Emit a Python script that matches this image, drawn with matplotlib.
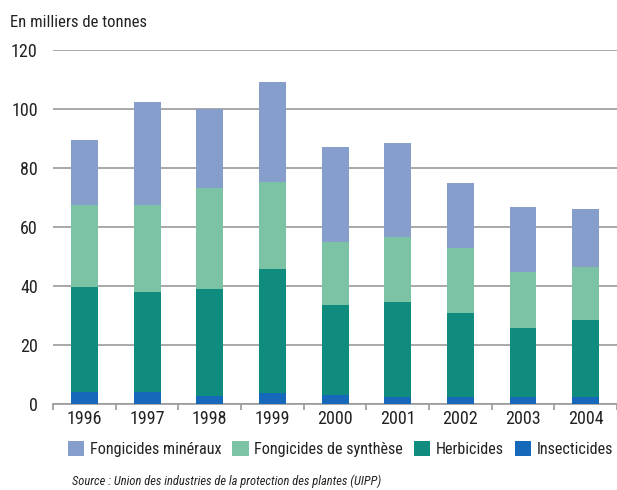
import numpy as np
import matplotlib.pyplot as plt
from matplotlib.patches import Patch
from matplotlib import font_manager

annees = ['1996', '1997', '1998', '1999', '2000', '2001', '2002', '2003', '2004']
insecticides = [4.0, 4.0, 2.7, 3.5, 2.9, 2.1, 2.1, 2.1, 2.1]
herbicides = [35.7, 34.0, 36.2, 42.1, 30.6, 32.3, 28.6, 23.7, 26.2]
fong_synthese = [27.6, 29.3, 34.1, 29.5, 21.2, 22.0, 22.2, 18.7, 17.9]
fong_mineraux = [22.1, 35.1, 26.8, 34.0, 32.3, 32.1, 22.1, 22.1, 19.7]

noms = ['Fongicides minéraux', 'Fongicides de synthèse', 'Herbicides', 'Insecticides']
couleurs = ['#869ecb', '#7cc3a5', '#0f8c7e', '#1668ba']

# police étroite si disponible
dispo = {f.name for f in font_manager.fontManager.ttflist}
police = 'DejaVu Sans'
for nom in ['Roboto Condensed', 'Open Sans Condensed', 'Liberation Sans Narrow', 'Lato']:
    if nom in dispo:
        police = nom
        break
plt.rcParams['font.family'] = [police, 'DejaVu Sans']

fig = plt.figure(figsize=(6.17, 4.9), dpi=100)
ax = fig.add_axes([0.086, 0.1765, 0.914, 0.7215])

x = np.arange(len(annees))
larg = 0.43
bas = np.zeros(len(annees))
series = [insecticides, herbicides, fong_synthese, fong_mineraux]
for vals, c in zip(series, couleurs[::-1]):
    ax.bar(x, vals, larg, bottom=bas, color=c, zorder=3)
    bas += np.array(vals)

ax.set_ylim(0, 120)
ax.set_xlim(-0.49, 8.35)
ax.set_yticks(range(0, 121, 20))
ax.yaxis.grid(True, color='#9a9a9a', linewidth=1.2, zorder=0)
for s in ['left', 'right', 'top']:
    ax.spines[s].set_visible(False)
ax.spines['bottom'].set_color('#9a9a9a')
ax.spines['bottom'].set_linewidth(1.2)

ax.set_xticks(x)
ax.set_xticklabels(annees, fontsize=13, color='#222222')
ax.set_xticks(np.arange(-0.5, 8.6, 1), minor=True)
ax.tick_params(axis='x', which='major', length=0, pad=5)
ax.tick_params(axis='x', which='minor', length=4, color='#9a9a9a', width=1.2)
ax.tick_params(axis='y', length=0, labelsize=13, labelcolor='#222222', pad=11)

fig.text(0.016, 0.955, 'En milliers de tonnes', fontsize=12, va='center', color='#222222')

poignees = [Patch(facecolor=c) for c in couleurs]
fig.legend(poignees, noms, loc='center', bbox_to_anchor=(0.552, 0.083), ncol=4,
           frameon=False, fontsize=11.6, handlelength=1.0, handleheight=1.0,
           handletextpad=0.35, columnspacing=0.7, borderaxespad=0, borderpad=0,
           labelcolor='#222222')

fig.text(0.116, 0.018, 'Source : Union des industries de la protection des plantes (UIPP)',
         fontsize=9, style='italic', va='center', color='#222222')

fig.savefig('out.png', dpi=100)
